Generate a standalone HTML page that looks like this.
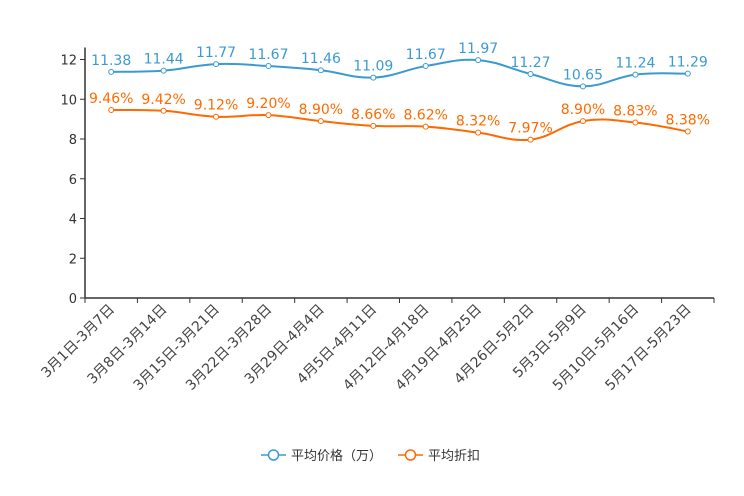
<!DOCTYPE html>
<html><head><meta charset="utf-8"><style>
body{margin:0;background:#fff;}
svg{display:block;font-family:"DejaVu Sans","Noto Sans CJK SC",sans-serif;}
</style></head><body>
<svg id="chart" width="744" height="496"></svg>
<script>
const categories=["3月1日-3月7日","3月8日-3月14日","3月15日-3月21日","3月22日-3月28日","3月29日-4月4日","4月5日-4月11日","4月12日-4月18日","4月19日-4月25日","4月26日-5月2日","5月3日-5月9日","5月10日-5月16日","5月17日-5月23日"];
const priceValues=[11.38,11.44,11.77,11.67,11.46,11.09,11.67,11.97,11.27,10.65,11.24,11.29];
const discountValues=[9.46,9.42,9.12,9.20,8.90,8.66,8.62,8.32,7.97,8.90,8.83,8.38];
const yTicks=[0,2,4,6,8,10,12];
const NS="http://www.w3.org/2000/svg";
const svg=document.getElementById('chart');
const X0=85,X1=714,Y0=298,Y1=59.5,YMAX=12;
const band=(X1-X0)/categories.length;
const xPos=i=>X0+band*(i+0.5);
const yPos=v=>Y0-(v/YMAX)*(Y0-Y1);
function mk(t,a,txt){const e=document.createElementNS(NS,t);for(const k in a)e.setAttribute(k,a[k]);if(txt!==undefined)e.textContent=txt;svg.appendChild(e);return e;}
yTicks.forEach(t=>{
  const y=yPos(t);
  const l=mk('line',{x1:X0-5,x2:X0,y1:y,y2:y,stroke:'#333'});
  
  
  const tx=mk('text',{x:X0-8,y:y+5,'text-anchor':'end','font-size':13,fill:'#333'},t);
  
  
});
const ya=mk('line',{x1:X0,x2:X0,y1:Y1-12,y2:Y0,stroke:'#333','stroke-width':1.5});


const xa=mk('line',{x1:X0,x2:X1,y1:Y0,y2:Y0,stroke:'#333','stroke-width':1.5});


for(let i=0;i<=categories.length;i++){
  const x=X0+band*i;
  const l=mk('line',{x1:x,x2:x,y1:Y0,y2:Y0+5,stroke:'#333'});
  
  
}
categories.forEach((c,i)=>{
  const x=xPos(i)+4,y=Y0+12;
  const t=mk('text',{x:x,y:y,'text-anchor':'end','font-size':14,fill:'#444',transform:`rotate(-45 ${x} ${y})`},c);
  
  
});
function smooth(pts){
  let d=`M${pts[0][0]},${pts[0][1]}`;
  for(let i=0;i<pts.length-1;i++){
    const p0=pts[Math.max(0,i-1)],p1=pts[i],p2=pts[i+1],p3=pts[Math.min(pts.length-1,i+2)];
    const k=0.2;
    const c1=[p1[0]+(p2[0]-p0[0])*k,p1[1]+(p2[1]-p0[1])*k];
    const c2=[p2[0]-(p3[0]-p1[0])*k,p2[1]-(p3[1]-p1[1])*k];
    d+=` C${c1[0]},${c1[1]} ${c2[0]},${c2[1]} ${p2[0]},${p2[1]}`;
  }
  return d;
}
function series(vals,color,name,fmt){
  const pts=vals.map((v,i)=>[xPos(i),yPos(v)]);
  const p=mk('path',{d:smooth(pts),fill:'none',stroke:color,'stroke-width':2});
  
  
  pts.forEach((pt,i)=>{
    const c=mk('circle',{cx:pt[0],cy:pt[1],r:2.5,fill:'#fff',stroke:color,'stroke-width':1});
    
    
    const t=mk('text',{x:pt[0],y:pt[1]-7,'text-anchor':'middle','font-size':14,fill:color},fmt(vals[i]));
    
    
  });
}
series(priceValues,'#3b9bd1','price',v=>v.toFixed(2));
series(discountValues,'#ff6a00','discount',v=>v.toFixed(2)+'%');
function legend(x,color,label,name){
  const l=mk('line',{x1:x,x2:x+25,y1:455,y2:455,stroke:color,'stroke-width':1.5});
  
  
  const c=mk('circle',{cx:x+12.5,cy:455,r:5,fill:'#fff',stroke:color,'stroke-width':1.5});
  
  
  const t=mk('text',{x:x+30,y:460,'font-size':13,fill:'#333'},label);
  
  
}
legend(261,'#3b9bd1','平均价格（万）','price');
legend(398,'#ff6a00','平均折扣','discount');
</script>
</body></html>
